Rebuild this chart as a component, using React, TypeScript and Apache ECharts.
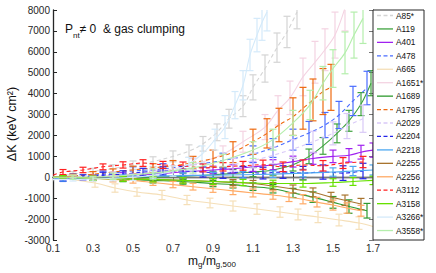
import React, { useEffect, useRef } from "react";
import * as echarts from "echarts";

const names = ["A85*", "A119", "A401", "A478", "A665", "A1651*", "A1689", "A1795", "A2029", "A2204", "A2218", "A2255", "A2256", "A3112", "A3158", "A3266*", "A3558*"];
const colors = ["#d4d4d4", "#3fa33f", "#a020f0", "#4a6cff", "#f5dfb8", "#f4d3e2", "#2e9a2e", "#ee6a10", "#d9c9f7", "#2424e8", "#4ea8f0", "#a8742e", "#ffaa66", "#ff2020", "#66e000", "#d4eafa", "#b4eeac"];
const dashed = [true, false, false, true, false, false, false, true, true, true, false, false, false, true, false, false, false];

const xTicks = [0.1, 0.3, 0.5, 0.7, 0.9, 1.1, 1.3, 1.5, 1.7];

// [m_g/m_g500, dK, error]
const A85 = [[0.1, 0, 0], [0.2, 150, 120], [0.3, 280, 150], [0.4, 420, 180], [0.5, 580, 200], [0.6, 750, 230], [0.7, 1000, 260], [0.78, 1250, 300], [0.85, 1600, 350], [0.92, 2150, 400], [0.98, 2800, 450], [1.05, 3400, 500], [1.1, 4300, 600], [1.16, 5200, 650], [1.22, 6200, 700], [1.27, 6950, 750], [1.32, 7900, 800]];
const A119 = [[0.1, 0, 0], [0.15, 0, 80], [0.3, -50, 100], [0.45, -50, 120], [0.6, 0, 130], [0.75, 50, 150], [0.9, 120, 170], [1.0, 180, 190], [1.1, 250, 220], [1.2, 350, 250], [1.3, 600, 300], [1.38, 1000, 350], [1.45, 1500, 400], [1.52, 2100, 450], [1.58, 2700, 500], [1.64, 3500, 550], [1.69, 4500, 600]];
const A401 = [[0.1, 0, 0], [0.15, -50, 80], [0.3, 0, 100], [0.45, 100, 120], [0.6, 150, 140], [0.75, 250, 160], [0.9, 350, 180], [1.0, 400, 200], [1.1, 500, 220], [1.2, 600, 240], [1.3, 750, 260], [1.4, 900, 280], [1.5, 1000, 300], [1.58, 1050, 320], [1.64, 1200, 330], [1.7, 1300, 340]];
const A478 = [[0.1, 0, 0], [0.2, 50, 120], [0.35, 150, 150], [0.5, 300, 200], [0.65, 400, 250], [0.8, 600, 300], [0.95, 800, 350], [1.1, 1100, 400], [1.2, 1400, 450], [1.3, 1800, 500], [1.38, 2120, 550], [1.46, 2500, 600], [1.53, 2980, 650], [1.6, 3650, 700], [1.67, 4270, 800]];
const A665 = [[0.1, 0, 0], [0.31, -275, 200], [0.41, -514, 200], [0.52, -705, 200], [0.645, -849, 220], [0.77, -1088, 220], [0.885, -1231, 230], [1.0, -1375, 240], [1.12, -1518, 250], [1.235, -1662, 250], [1.325, -1780, 260], [1.425, -1900, 270], [1.53, -2045, 280], [1.63, -2190, 300], [1.7, -2350, 0]];
const A1651 = [[0.1, 0, 0], [0.2, 0, 100], [0.4, 100, 150], [0.6, 250, 200], [0.8, 600, 300], [0.95, 1100, 400], [1.05, 1700, 500], [1.16, 2400, 600], [1.225, 3200, 700], [1.285, 3800, 800], [1.35, 4800, 900], [1.41, 5500, 1000], [1.46, 6100, 1000], [1.51, 6800, 1100], [1.56, 8100, 1100]];
const A1689 = [[0.1, 0, 0], [0.15, 0, 80], [0.3, -50, 100], [0.45, -100, 110], [0.6, -150, 120], [0.75, -200, 130], [0.9, -300, 150], [1.0, -350, 160], [1.1, -450, 180], [1.2, -550, 200], [1.3, -750, 220], [1.4, -950, 250], [1.5, -1200, 280], [1.58, -1400, 320], [1.67, -1600, 350]];
const A1795 = [[0.1, 0, 0], [0.2, 50, 100], [0.3, 150, 120], [0.4, 250, 150], [0.5, 350, 180], [0.6, 450, 200], [0.7, 550, 250], [0.8, 700, 300], [0.9, 900, 400], [1.0, 1200, 500], [1.1, 1700, 600], [1.17, 2100, 700], [1.23, 2500, 800], [1.3, 2900, 900], [1.35, 3300, 1000], [1.4, 3700, 1000], [1.45, 4100, 1100], [1.49, 4300, 1100]];
const A2029 = [[0.1, 0, 0], [0.2, 0, 100], [0.4, 100, 150], [0.6, 200, 200], [0.8, 350, 250], [1.0, 600, 300], [1.1, 800, 350], [1.2, 1050, 400], [1.3, 1350, 450], [1.4, 1700, 500], [1.5, 2100, 550], [1.57, 2450, 600], [1.65, 2800, 650]];
const A2204 = [[0.1, 0, 0], [0.15, -100, 100], [0.25, 0, 120], [0.35, 100, 140], [0.45, 150, 160], [0.55, 250, 180], [0.65, 300, 200], [0.75, 300, 220], [0.85, 250, 240], [0.95, 200, 250], [1.05, 250, 270], [1.15, 200, 280], [1.25, 250, 300], [1.35, 200, 320], [1.45, 250, 340], [1.55, 200, 350], [1.65, 300, 370]];
const A2218 = [[0.1, 0, 0], [0.15, -100, 80], [0.3, -50, 100], [0.45, 0, 110], [0.6, 50, 120], [0.75, 80, 130], [0.9, 100, 140], [1.05, 120, 150], [1.2, 150, 160], [1.35, 200, 180], [1.5, 250, 200], [1.6, 300, 220], [1.7, 350, 240]];
const A2255 = [[0.1, 0, 0], [0.15, 0, 80], [0.3, -30, 90], [0.45, -60, 100], [0.6, -100, 110], [0.75, -150, 120], [0.9, -200, 130], [1.0, -250, 140], [1.1, -300, 150], [1.2, -420, 170], [1.3, -560, 190], [1.4, -720, 210], [1.49, -950, 230], [1.56, -1100, 250], [1.64, -1280, 270]];
const A2256 = [[0.1, 0, 0], [0.2, 0, 100], [0.3, -50, 110], [0.4, -100, 120], [0.5, -150, 130], [0.6, -250, 140], [0.7, -350, 150], [0.8, -450, 160], [0.9, -550, 170], [1.0, -650, 180], [1.1, -750, 190], [1.2, -850, 200], [1.28, -950, 210], [1.35, -1050, 220], [1.42, -1190, 230], [1.5, -1330, 240], [1.57, -1470, 250], [1.64, -1600, 260]];
const A3112 = [[0.1, 100, 0], [0.15, 250, 120], [0.25, 350, 130], [0.35, 500, 140], [0.45, 590, 150], [0.55, 680, 160], [0.65, 590, 170], [0.75, 550, 180], [0.85, 450, 190], [0.95, 500, 200], [1.05, 550, 210], [1.15, 600, 220], [1.25, 500, 230], [1.35, 590, 240], [1.45, 550, 250], [1.55, 680, 260], [1.65, 730, 270]];
const A3158 = [[0.1, 0, 0], [0.15, 0, 80], [0.3, -50, 100], [0.45, -80, 110], [0.6, -100, 120], [0.75, -150, 130], [0.9, -200, 140], [1.05, -250, 150], [1.2, -300, 160], [1.35, -300, 170], [1.5, -250, 180], [1.6, -200, 190], [1.7, -150, 200]];
const A3266 = [[0.1, -100, 0], [0.2, -100, 80], [0.3, -80, 100], [0.4, -50, 120], [0.5, 0, 150], [0.6, 100, 180], [0.7, 300, 250], [0.78, 650, 300], [0.845, 1100, 400], [0.91, 1800, 500], [0.96, 2400, 550], [1.01, 3450, 650], [1.05, 4400, 700], [1.085, 5850, 750], [1.12, 6800, 800], [1.145, 7400, 850], [1.17, 7900, 900]];
const A3558 = [[0.1, 0, 0], [0.2, 0, 100], [0.4, 50, 150], [0.6, 200, 200], [0.8, 450, 250], [0.95, 800, 300], [1.1, 1300, 400], [1.2, 1800, 500], [1.3, 2600, 600], [1.385, 3460, 700], [1.45, 4500, 800], [1.5, 5200, 900], [1.56, 5950, 1000], [1.605, 6800, 1100], [1.65, 7600, 1200]];

const seriesValues = [A85, A119, A401, A478, A665, A1651, A1689, A1795, A2029, A2204, A2218, A2255, A2256, A3112, A3158, A3266, A3558];

const FONT = "Liberation Sans, Arial, Helvetica, sans-serif";
const AX = "#262626";

function errRender(color: string) {
  return (params: any, api: any) => {
    const x = api.value(0), y = api.value(1), e = api.value(2);
    if (!e) return null;
    const cs = params.coordSys;
    const p1 = api.coord([x, y + e]);
    const p2 = api.coord([x, y - e]);
    const yTop = cs.y, yBot = cs.y + cs.height;
    const a = Math.max(p1[1], yTop), b = Math.min(p2[1], yBot);
    if (a >= b) return null;
    const children: any[] = [];
    const style = { stroke: color, lineWidth: 1.2 };
    children.push({ type: "line", shape: { x1: p1[0], y1: a, x2: p1[0], y2: b }, style });
    if (p1[1] >= yTop) children.push({ type: "line", shape: { x1: p1[0] - 3.5, y1: p1[1], x2: p1[0] + 3.5, y2: p1[1] }, style });
    if (p2[1] <= yBot) children.push({ type: "line", shape: { x1: p2[0] - 3.5, y1: p2[1], x2: p2[0] + 3.5, y2: p2[1] }, style });
    return { type: "group", children };
  };
}

export default function App() {
  const ref = useRef<HTMLDivElement>(null);
  useEffect(() => {
    if (!ref.current) return;
    const chart = echarts.init(ref.current, null, { renderer: "svg" });
    const series: any[] = [];
    seriesValues.forEach((arr, i) => {
      series.push({
        type: "line",
        name: names[i],
        data: arr.map((d) => [d[0], d[1]]),
        smooth: 0.35,
        symbol: "none",
        clip: true,
        lineStyle: { color: colors[i], width: 1.1, type: dashed[i] ? [4, 3] : "solid" },
        itemStyle: { color: colors[i] },
        z: 2 + i * 0.01,
      });
      series.push({
        type: "custom",
        name: names[i],
        data: arr.filter((d) => d[2] > 0),
        encode: { x: 0, y: 1 },
        renderItem: errRender(colors[i]),
        itemStyle: { color: colors[i] },
        z: 2 + i * 0.01,
      });
    });
    const legendGraphics: any[] = [];
    names.forEach((n, i) => {
      const cy = 15.5 + i * 13.44;
      legendGraphics.push({
        type: "line", z: 10,
        shape: { x1: 377, y1: cy, x2: 393, y2: cy },
        style: { stroke: colors[i], lineWidth: 1.3, lineDash: dashed[i] ? [4, 2.5] : null },
      });
      legendGraphics.push({
        type: "text", z: 10, x: 396, y: cy,
        style: { text: n, fontSize: 8.3, fontFamily: FONT, fill: "#111", verticalAlign: "middle", align: "left" },
      });
    });
    const axisCommon = {
      axisLine: { show: true, lineStyle: { color: AX, width: 1 } },
      axisTick: { show: true, inside: true, length: 4, lineStyle: { color: AX } },
      splitLine: { show: false },
    };
    chart.setOption({
      animation: false,
      grid: { left: 53, right: 63, top: 10, bottom: 33, containLabel: false },
      xAxis: [
        {
          type: "value", min: 0.1, max: 1.7, interval: 0.2, position: "bottom",
          ...axisCommon,
          axisLine: { show: true, lineStyle: { color: AX, width: 1.3 } },
          axisLabel: { color: AX, fontSize: 10, lineHeight: 10, fontFamily: FONT, margin: 3, formatter: (v: number) => (xTicks.some((t) => Math.abs(t - v) < 1e-6) ? v.toFixed(1) : "") },
        },
        {
          type: "value", min: 0.1, max: 1.7, interval: 0.2, position: "top",
          ...axisCommon,
          axisLine: { show: true, lineStyle: { color: "#777", width: 1 } },
          axisTick: { show: true, inside: true, length: 4, lineStyle: { color: "#777" } },
          axisLabel: { show: false },
        },
      ],
      yAxis: [
        {
          type: "value", min: -3000, max: 8000, interval: 1000, position: "left",
          ...axisCommon,
          axisLine: { show: true, lineStyle: { color: AX, width: 1.3 } },
          axisLabel: { color: AX, fontSize: 10, fontFamily: FONT, margin: 3, formatter: (v: number) => String(Math.round(v)) },
        },
        {
          type: "value", min: -3000, max: 8000, interval: 1000, position: "right",
          ...axisCommon,
          axisTick: { show: true, inside: true, length: 4, lineStyle: { color: "#777" } },
          axisLabel: { show: false },
        },
      ],
      graphic: [
        { type: "rect", shape: { x: 373, y: 10, width: 51, height: 230 }, style: { fill: "#fff", stroke: AX, lineWidth: 1 }, z: 9 },
        ...legendGraphics,
        {
          type: "text", x: 65, y: 23, z: 10,
          style: {
            text: "{n|P}{s|nt}{n|≠ 0  & gas clumping}",
            rich: {
              n: { fontSize: 12, fontFamily: FONT, fill: "#111", lineHeight: 12, verticalAlign: "top" },
              s: { fontSize: 8, fontFamily: FONT, fill: "#111", lineHeight: 16, verticalAlign: "bottom" },
            },
          },
        },
        {
          type: "text", x: 212, y: 255, z: 10,
          style: {
            text: "{n|m}{s|g}{n|/m}{s|g,500}",
            align: "center",
            rich: {
              n: { fontSize: 12, fontFamily: FONT, fill: "#111", lineHeight: 9, verticalAlign: "top" },
              s: { fontSize: 8, fontFamily: FONT, fill: "#111", lineHeight: 13, verticalAlign: "bottom" },
            },
          },
        },
        {
          type: "text", x: 12, y: 124, rotation: Math.PI / 2, z: 10,
          style: { text: "ΔK (keV cm²)", fontSize: 12.5, fontFamily: FONT, fill: "#111", align: "center", verticalAlign: "middle" },
        },
      ],
      series,
    });
    return () => chart.dispose();
  }, []);
  return <div ref={ref} style={{ width: 436, height: 273, position: "absolute", left: 0, top: 0 }} />;
}
